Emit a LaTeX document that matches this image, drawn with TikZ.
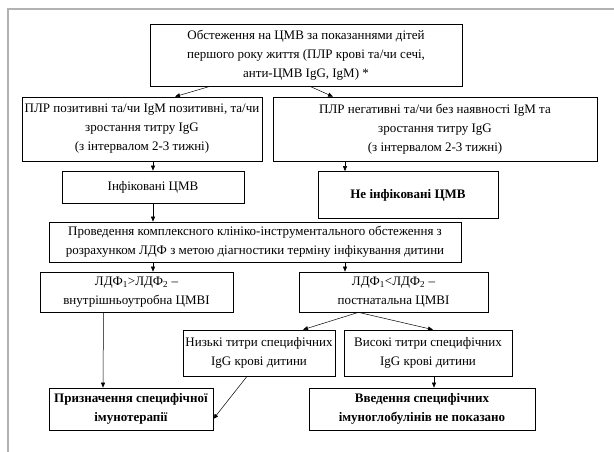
\documentclass[tikz,border=0pt]{standalone}
\usepackage{fontspec}
\setmainfont{Liberation Serif}
\usetikzlibrary{arrows.meta,calc}

\begin{document}
\begin{tikzpicture}[x=1pt,y=-1pt,
    box/.style={draw,line width=0.7pt,align=center,inner sep=2pt,font=\fontsize{13}{19}\selectfont},
    arr/.style={-{Triangle[length=5pt,width=4pt]},line width=0.5pt}]
    \useasboundingbox (0,0) rectangle (614,452);
    \draw[gray!60,line width=1.2pt] (614,9) -- (8,9) -- (8,452);

    \node[box,minimum width=312pt,minimum height=62pt] (exam) at (306,55) {Обстеження на ЦМВ за показаннями дітей\\першого року життя (ПЛР крові та/чи сечі,\\анти-ЦМВ IgG, IgM) *};

    \node[box,minimum width=240pt,minimum height=64pt] (pos) at (142,129) {ПЛР позитивні та/чи IgM позитивні, та/чи\\зростання титру IgG\\(з інтервалом 2-3 тижні)};
    \node[box,minimum width=324pt,minimum height=64pt] (neg) at (435,129) {ПЛР негативні та/чи без наявності IgM та\\зростання титру IgG\\(з інтервалом 2-3 тижні)};

    \node[box,minimum width=182pt,minimum height=32pt] (inf) at (153,187) {Інфіковані ЦМВ};
    \node[box,minimum width=180pt,minimum height=47pt] (noninf) at (408,195) {\textbf{Не інфіковані ЦМВ}};

    \node[box,minimum width=412pt,minimum height=40pt] (complex) at (255,242) {Проведення комплексного клініко-інструментального обстеження з\\розрахунком ЛДФ з метою діагностики терміну інфікування дитини};

    \node[box,minimum width=193pt,minimum height=40pt] (ldfa) at (136.5,292) {ЛДФ\textsubscript{1}>ЛДФ\textsubscript{2} –\\внутрішньоутробна ЦМВІ};
    \node[box,minimum width=189pt,minimum height=40pt] (ldfb) at (393.5,292) {ЛДФ\textsubscript{1}<ЛДФ\textsubscript{2} –\\постнатальна ЦМВІ};

    \node[box,minimum width=152pt,minimum height=46pt] (low) at (259,353) {Низькі титри специфічних\\IgG крові дитини};
    \node[box,minimum width=168pt,minimum height=46pt] (high) at (428,353) {Високі титри специфічних\\IgG крові дитини};

    \node[box,minimum width=164pt,minimum height=42pt] (therapy) at (131,409) {\textbf{Призначення специфічної}\\\textbf{імунотерапії}};
    \node[box,minimum width=226pt,minimum height=42pt] (noig) at (422,409) {\textbf{Введення специфічних}\\\textbf{імуноглобулінів не показано}};

    \draw[arr] ([xshift=-96pt]exam.south) -- ([xshift=33pt]pos.north);
    \draw[arr] ([xshift=4pt]exam.south) -- ([xshift=-102pt]neg.north);
    \draw[arr] (pos.south -| inf.north) -- (inf.north);
    \draw[arr] ($(neg.south -| noninf.north)+(-63pt,0)$) -- ([xshift=-63pt]noninf.north);
    \draw[arr] (inf.south) -- (inf.south |- complex.north);
    \draw[arr] (complex.south -| inf.south) -- (ldfa.north -| inf.south);
    \draw[arr] ($(complex.south -| noninf.north)+(-63pt,0)$) -- ($(ldfb.north -| noninf.north)+(-63pt,0)$);
    \draw[arr] ([xshift=-35pt]ldfb.south) -- ([xshift=44pt]low.north);
    \draw[arr] ([xshift=-35pt]ldfb.south) -- ([xshift=5pt]high.north);
    \draw[arr] ([xshift=-33pt]ldfa.south) -- ([xshift=-28pt]therapy.north);
    \draw[arr] ([xshift=-12pt]low.south) -- ([yshift=-10pt]therapy.east);
    \draw[arr] ([xshift=6pt]high.south) -- ([xshift=12pt]noig.north);
\end{tikzpicture}
\end{document}
